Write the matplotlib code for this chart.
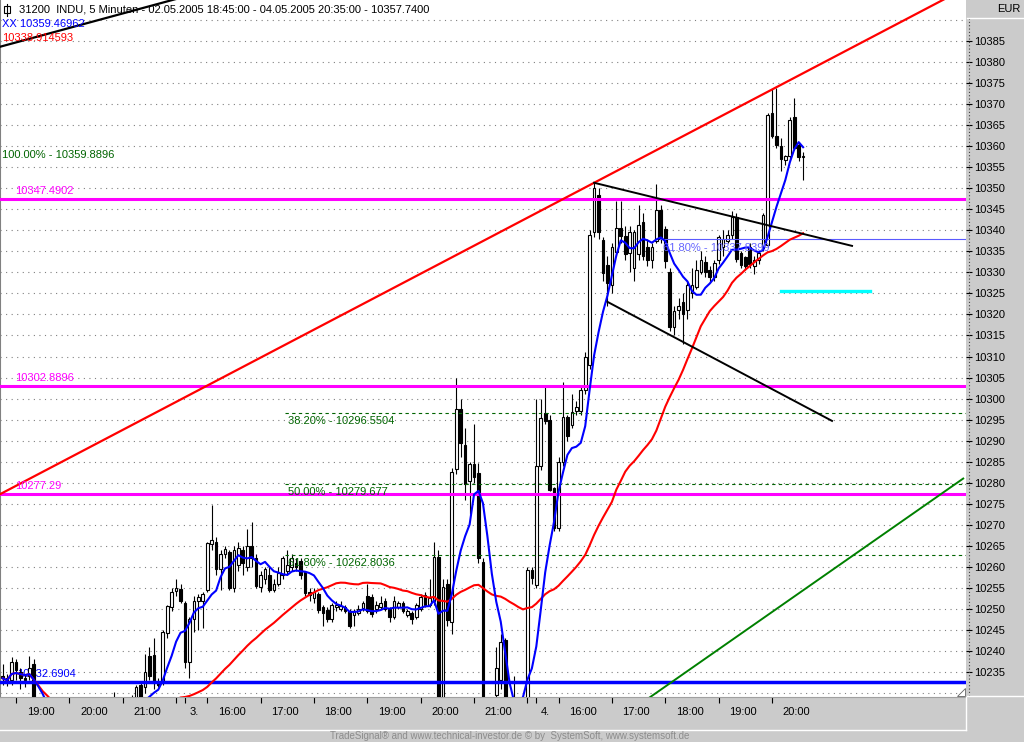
"""INDU 5-Minuten Chart, 02.05.2005 - 04.05.2005, im TradeSignal-Stil"""

import numpy as np
import pandas as pd
import matplotlib
matplotlib.use('Agg')
import matplotlib.pyplot as plt
from matplotlib.patches import Rectangle, Polygon
from matplotlib.lines import Line2D

W, H = 1024, 742
PLOT_R = 966
PLOT_B = 697
GRAY = '#cbcbcb'

plt.rcParams['font.family'] = ['Liberation Sans', 'DejaVu Sans']

SESSIONS = [('2005-05-02 18:45', '2005-05-02 22:00'),
            ('2005-05-03 15:30', '2005-05-03 22:00'),
            ('2005-05-04 15:30', '2005-05-04 20:35')]

# OHLC je 5-Minuten-Kerze
opens = [
    10234, 10233.5, 10233.1, 10237.5, 10235, 10233.5, 10234, 10237, 10224, 10221,
    10218, 10219, 10216, 10217, 10219, 10218, 10220, 10222, 10221, 10219,
    10220, 10222, 10223, 10221, 10224, 10225, 10227, 10225, 10226, 10227,
    10226.5, 10231.9, 10231.5, 10238.7, 10239, 10232.7, 10232.5, 10244.4, 10250.5, 10254.2,
    10254.8, 10251.5, 10237.5, 10247.5, 10252, 10252, 10254.6, 10265.5, 10266, 10259.4,
    10263, 10263.5, 10255, 10260.5, 10264, 10260, 10265, 10262, 10255.3, 10257,
    10258, 10254.6, 10256, 10258, 10259, 10260, 10261, 10261.5, 10258.8, 10254,
    10252.5, 10253.5, 10250.5, 10249.8, 10247.6, 10250.5, 10250, 10250.5, 10249.6, 10248.5,
    10249, 10250.2, 10253, 10252.8, 10250, 10250.5, 10252, 10250, 10248, 10250.5,
    10251.5, 10248.5, 10249, 10248, 10250, 10253.3, 10251, 10252, 10262.4, 10224,
    10256, 10247, 10283.3, 10297.5, 10289, 10280.4, 10284.5, 10282.3, 10261.2, 10224,
    10220, 10229.5, 10233, 10242.6, 10226, 10223, 10227, 10224, 10228, 10259.3,
    10255.7, 10283.9, 10296.5, 10295, 10278.7, 10269.2, 10285, 10295.6, 10293.8, 10297,
    10297, 10302, 10308, 10339.7, 10348.4, 10337.7, 10331.8, 10327, 10334.9, 10340.5,
    10338.6, 10334.5, 10331, 10334.3, 10342, 10336, 10333, 10337.4, 10344.9, 10340.2,
    10330.2, 10317.1, 10321, 10323, 10321, 10325, 10326.6, 10330.2, 10332.5, 10330.6,
    10329, 10332.9, 10336, 10337.5, 10338.9, 10343.2, 10334.6, 10333.7, 10336, 10331.5,
    10333, 10335.7, 10336.5, 10367.8, 10362.3, 10360, 10356.7, 10357.7, 10367, 10360.3,
    10357.4,
]
highs = [
    10237, 10234.5, 10238.5, 10238, 10236, 10234.5, 10238.7, 10238, 10225, 10222,
    10221, 10220, 10218.5, 10220.5, 10220, 10221.5, 10223.5, 10223, 10222, 10221.5,
    10223.5, 10224.5, 10224, 10225.5, 10226.5, 10230.2, 10228, 10227.5, 10228, 10229.5,
    10232, 10232.5, 10239.4, 10241, 10243, 10233.5, 10245, 10251, 10255, 10257,
    10256, 10252, 10248, 10253, 10253.5, 10254, 10266, 10274.7, 10267, 10264,
    10265, 10264, 10265, 10266, 10265, 10269, 10270.7, 10263, 10259, 10260,
    10260, 10257, 10260, 10262.5, 10264, 10263, 10262, 10262, 10259, 10255,
    10255, 10254, 10251, 10250.5, 10251.5, 10252, 10252, 10251, 10250, 10250,
    10251, 10252, 10256, 10253.5, 10252, 10253, 10252.5, 10250.5, 10253, 10252,
    10252, 10250, 10249.5, 10251.5, 10253.5, 10254, 10257, 10266, 10264, 10257,
    10257, 10283.5, 10304.8, 10300, 10293, 10285, 10294, 10284.8, 10262, 10226,
    10227, 10241, 10244, 10243, 10228, 10234, 10228, 10229, 10260, 10260,
    10300, 10300, 10303, 10296, 10279, 10286, 10304, 10296, 10301, 10299.5,
    10303, 10311, 10340, 10351.3, 10350, 10338.5, 10334, 10337, 10347, 10347,
    10341, 10341, 10340, 10346, 10344, 10338, 10337, 10351, 10346, 10341,
    10331, 10322, 10324, 10325, 10328, 10331, 10333, 10335, 10334, 10331.5,
    10333, 10339, 10340, 10340, 10344.5, 10344, 10335, 10334, 10337, 10334,
    10335, 10344, 10368, 10373.5, 10373.8, 10362, 10358, 10367, 10371.5, 10361,
    10358.5,
]
lows = [
    10232, 10231.8, 10232, 10233, 10231, 10231.5, 10233, 10220, 10219, 10216,
    10217, 10214.5, 10215, 10216, 10216.5, 10217, 10219, 10220, 10217.5, 10218,
    10219, 10221, 10219.5, 10220, 10223, 10223.5, 10224, 10224, 10225, 10225.5,
    10225, 10226, 10230, 10233, 10231, 10231.5, 10232, 10243, 10249.5, 10253,
    10251.5, 10236, 10233.6, 10244.6, 10245, 10245.5, 10254, 10264, 10258, 10254.5,
    10262, 10254.5, 10254, 10259, 10258, 10259, 10260, 10255, 10254, 10256,
    10254, 10254, 10255.5, 10257, 10258, 10259, 10259, 10257, 10253, 10252,
    10251.5, 10249, 10246, 10247, 10247, 10249.5, 10249.5, 10249, 10245.5, 10246,
    10248.5, 10249.5, 10249, 10248, 10249, 10250, 10249.5, 10247, 10247.5, 10250,
    10249, 10248, 10246.5, 10247.5, 10249.5, 10250.5, 10250.5, 10251, 10220, 10222,
    10246, 10244, 10282, 10286, 10276, 10272.5, 10280, 10261, 10220, 10217,
    10218, 10225, 10231, 10224, 10221, 10222, 10222, 10222, 10226, 10256,
    10255, 10283, 10294, 10278, 10268.5, 10268.5, 10284, 10290, 10293, 10296,
    10296, 10301, 10307, 10338.5, 10338, 10328, 10322, 10325, 10334, 10337,
    10333, 10330, 10328, 10333, 10333, 10331.5, 10331, 10337, 10337, 10331,
    10316, 10315, 10319, 10313, 10319, 10324, 10326, 10329.5, 10329, 10327.5,
    10328, 10332, 10334, 10337, 10338, 10332.5, 10331, 10330.5, 10331, 10329.5,
    10332, 10335, 10336, 10362, 10359.5, 10354, 10355.5, 10357, 10359, 10356.5,
    10352,
]
closes = [
    10233.5, 10232.6, 10237.5, 10235.5, 10233.5, 10233, 10236, 10224, 10221, 10218,
    10219, 10216, 10217, 10219, 10218, 10220, 10222, 10221, 10219, 10220,
    10222, 10223, 10221, 10224, 10225, 10227, 10225, 10226, 10227, 10226.5,
    10231.5, 10228, 10235, 10234, 10232.5, 10232, 10244.6, 10250.7, 10254, 10254.9,
    10252, 10237.5, 10247.5, 10252, 10252.8, 10253.5, 10265.7, 10266.5, 10259.4, 10263,
    10264.2, 10255, 10264, 10264.5, 10261, 10265, 10262, 10255.5, 10258, 10259.5,
    10254.6, 10256, 10258.5, 10262, 10260.5, 10262, 10260, 10258, 10253.9, 10253.3,
    10254, 10249.8, 10249, 10247.5, 10251, 10251, 10250.8, 10249.5, 10246, 10249.5,
    10250, 10251.5, 10249.5, 10248.9, 10251, 10251.5, 10250, 10248, 10252, 10251.5,
    10249.5, 10249.5, 10247.5, 10251, 10252.9, 10251, 10252.5, 10262.4, 10224, 10255.3,
    10247.4, 10282.6, 10297.5, 10289.4, 10279.8, 10284.5, 10281.3, 10262, 10224, 10220,
    10226, 10236, 10242.2, 10226, 10223, 10227, 10224, 10228, 10259.3, 10257.4,
    10283.9, 10295.3, 10294.7, 10278.3, 10269.2, 10285, 10295.6, 10291, 10296.8, 10298,
    10302, 10310, 10338.8, 10350, 10339.7, 10329.8, 10327.5, 10336, 10340.5, 10338.6,
    10334.3, 10339.7, 10339.5, 10341.3, 10334, 10333, 10336, 10344.9, 10338, 10332.8,
    10317.1, 10320.9, 10322, 10320, 10327, 10327, 10330.6, 10333, 10330.2, 10329,
    10332.2, 10338.5, 10338, 10338.9, 10343.2, 10333.3, 10331.8, 10331.4, 10332, 10333,
    10334.5, 10343.6, 10367.4, 10362.3, 10360.2, 10357, 10357.7, 10366.2, 10359.5, 10357.4,
    10357.74,
]

FAST_N = 8
SLOW_N = 40
fast_label = 'XX 10359.46962'
slow_label = '10338.914593'

# Horizontale Marken und Fibonacci-Level
magenta_levels = [10347.4902, 10302.8896, 10277.29]
magenta_labels = ['10347.4902', '10302.8896', '10277.29']
blue_level = 10232.6904
fib_levels = [10296.5504, 10279.677, 10262.8036]
fib_labels = ['38.20% - 10296.5504', '50.00% - 10279.677', '61.80% - 10262.8036']
fib_top_label = '100.00% - 10359.8896'
fib_top_level = 10359.8896
fib_start = 63.5
fib2_level = 10337.8399
fib2_label = '61.80% - 10337.8399'
fib2_start = 147.8

# Trendlinien: (Kerzenindex, Kurs)
red_trend = [(0, 10277.6), (133, 10351.3)]
black_top = [(0, 10383.8), (38, 10394.7)]
tri_upper = [(133, 10351.3), (191, 10336.3)]
tri_lower = [(136, 10323.0), (186.5, 10294.7)]
green_trend = [(145, 10228.6), (216, 10281.0)]
cyan_seg = [(175, 10325.6), (195, 10325.6)]

Y_TOP = 10385 + 41 / 4.207
Y_BOT = 10385 - 656 / 4.207
X_LEFT = -2.66 / 4.447
X_RIGHT = (PLOT_R - 2.66) / 4.447


def fx(px):
    return px / W


def fy(py):
    return 1 - py / H


def extend(pts, x0, x1):
    (a, pa), (b, pb) = pts
    k = (pb - pa) / (b - a)
    return [x0, x1], [pa + k * (x0 - a), pa + k * (x1 - a)]


def build_times():
    parts = [pd.date_range(a, b, freq='5min') for a, b in SESSIONS]
    t = parts[0]
    for p in parts[1:]:
        t = t.append(p)
    return t


def main():
    times = build_times()
    o = np.array(opens)
    h = np.array(highs)
    l = np.array(lows)
    c = np.array(closes)
    x = np.arange(len(c))

    fig = plt.figure(figsize=(W / 100, H / 100), dpi=100, facecolor=GRAY)
    ax = fig.add_axes([0, (H - PLOT_B) / H, PLOT_R / W, PLOT_B / H])
    ax.set_facecolor('white')
    ax.set_xlim(X_LEFT, X_RIGHT)
    ax.set_ylim(Y_BOT, Y_TOP)

    # Gitter
    ax.hlines(np.arange(10230, 10391, 5), X_LEFT, X_RIGHT, colors='#808080',
              linestyles=(0, (1, 4)), lw=0.8, zorder=1)

    # Kerzen
    up = c >= o
    ax.vlines(x, l, h, color='black', lw=0.8, zorder=2)
    ax.bar(x[up], (c - o)[up], bottom=o[up], width=0.6, color='white',
           edgecolor='black', lw=0.8, zorder=3)
    ax.bar(x[~up], (o - c)[~up], bottom=c[~up], width=0.6, color='black',
           edgecolor='black', lw=0.8, zorder=3)

    # Fibonacci
    for lev, lab in zip(fib_levels, fib_labels):
        ax.plot([fib_start, X_RIGHT], [lev, lev], color='#006400', lw=0.8,
                ls=(0, (3, 3)), zorder=4)
        ax.text(fib_start + 0.7, lev - 0.8, lab, color='#006400', fontsize=8,
                va='top', ha='left', zorder=6)
    ax.text(2 / PLOT_R, fib_top_level - 0.8, fib_top_label, color='#006400',
            fontsize=8, va='top', ha='left', transform=ax.get_yaxis_transform())
    ax.plot([fib2_start, X_RIGHT], [fib2_level, fib2_level], color='#5a5aff', lw=0.8, zorder=4)
    ax.text(fib2_start + 0.6, fib2_level - 0.8, fib2_label, color='#6464ff', fontsize=8,
            va='top', ha='left', zorder=6)

    # Horizontale Linien
    for lev, lab in zip(magenta_levels, magenta_labels):
        ax.axhline(lev, color='#ff00ff', lw=2.2, zorder=5)
        ax.text(15 / PLOT_R, lev + 0.7, lab, color='#ff00ff', fontsize=8,
                va='bottom', ha='left', transform=ax.get_yaxis_transform(), zorder=6)
    ax.axhline(blue_level, color='#0000ff', lw=2.5, zorder=5)
    ax.text(17 / PLOT_R, blue_level + 0.7, f'{blue_level:.4f}', color='#0000ff',
            fontsize=8, va='bottom', ha='left', transform=ax.get_yaxis_transform(), zorder=1.5)

    # Gleitende Durchschnitte
    s = pd.Series(c)
    fast = s.rolling(FAST_N, min_periods=1).mean()
    slow = s.rolling(SLOW_N, min_periods=1).mean()
    ax.plot(x, slow, color='#ff0000', lw=1.5, zorder=5)
    ax.plot(x, fast, color='#0000ff', lw=1.5, zorder=5)

    # Trendlinien
    xs, ys = extend(red_trend, X_LEFT, X_RIGHT)
    ax.plot(xs, ys, color='#ff0000', lw=1.6, zorder=5)
    xs, ys = extend(black_top, X_LEFT, 45)
    ax.plot(xs, ys, color='black', lw=1.6, zorder=5)
    for seg in (tri_upper, tri_lower):
        ax.plot([p[0] for p in seg], [p[1] for p in seg], color='black', lw=1.4, zorder=5)
    ax.plot([p[0] for p in green_trend], [p[1] for p in green_trend], color='#008000',
            lw=1.4, zorder=5)
    ax.plot([p[0] for p in cyan_seg], [p[1] for p in cyan_seg], color='#00ffff',
            lw=2.4, zorder=5)

    # Kopfzeile
    ax.text(2 / PLOT_R, 1 - 24 / PLOT_B, fast_label, color='#0000ff',
            fontsize=8, va='center', transform=ax.transAxes, zorder=7)
    ax.text(2 / PLOT_R, 1 - 38 / PLOT_B, slow_label, color='#ff0000',
            fontsize=8, va='center', transform=ax.transAxes, zorder=7)
    title = (f'31200  INDU, 5 Minuten - {times[0]:%d.%m.%Y %H:%M:%S} - '
             f'{times[-1]:%d.%m.%Y %H:%M:%S} - {c[-1]:.4f}')
    fig.text(fx(19), fy(10), title, fontsize=8, va='center', ha='left')
    fig.patches.append(Rectangle((fx(4), fy(13)), 6 / W, 7 / H, fill=False,
                                 edgecolor='black', lw=0.8, transform=fig.transFigure))
    fig.lines.append(Line2D([fx(7), fx(7)], [fy(4), fy(16)], color='black', lw=0.8,
                            transform=fig.transFigure))

    # Y-Achse rechts
    for side in ('top', 'right'):
        ax.spines[side].set_visible(False)
    ax.spines['left'].set_color('#808080')
    ax.spines['bottom'].set_color('#a0a0a0')
    ax.yaxis.tick_right()
    ax.set_yticks(np.arange(10235, 10386, 5))
    ax.tick_params(axis='y', direction='out', length=4, width=0.8, pad=2, labelsize=8)
    fig.lines.append(Line2D([fx(969), fx(969)], [fy(18), fy(695)], color='#404040',
                            lw=0.8, ls=(0, (1, 2)), transform=fig.transFigure))

    # X-Achse
    tick_pos = [i for i, t in enumerate(times)
                if t.minute == 0 or (t.hour == 15 and t.minute == 35)]
    lab_pos, lab_txt = [], []
    for k, i in enumerate(tick_pos):
        t = times[i]
        if t.hour == 22:
            continue
        nxt = tick_pos[k + 1] if k + 1 < len(tick_pos) else i + 12
        lab_pos.append((i + nxt) / 2 - 0.5)
        lab_txt.append(f'{t.day}.' if t.minute == 35 else f'{t:%H:00}')
    ax.set_xticks(tick_pos)
    ax.set_xticklabels([])
    ax.set_xticks(lab_pos, minor=True)
    ax.set_xticklabels(lab_txt, minor=True)
    ax.tick_params(axis='x', which='major', direction='out', length=4, width=0.8)
    ax.tick_params(axis='x', which='minor', length=0, pad=7, labelsize=8)

    # Rahmen und Beschriftungen
    fig.text(fx(1020), fy(9), 'EUR', fontsize=8, ha='right', va='center')
    fig.lines.append(Line2D([fx(967), 1], [fy(17.5), fy(17.5)], color='white', lw=1,
                            transform=fig.transFigure))
    fig.lines.append(Line2D([fx(967), 1], [fy(695.5), fy(695.5)], color='white', lw=1,
                            transform=fig.transFigure))
    fig.lines.append(Line2D([0, fx(965.5)], [fy(729.5), fy(729.5)], color='white', lw=1,
                            transform=fig.transFigure))
    fig.lines.append(Line2D([fx(965.5), fx(965.5)], [fy(697), fy(729.5)], color='white',
                            lw=1, transform=fig.transFigure))
    fig.patches.append(Polygon([(fx(957), fy(696)), (fx(965), fy(696)), (fx(965), fy(688))],
                               closed=True, facecolor='white', edgecolor='#606060', lw=0.6,
                               transform=fig.transFigure))
    fig.text(fx(510), fy(736), 'TradeSignal® and www.technical-investor.de © by  SystemSoft, '
             'www.systemsoft.de', fontsize=7, color='#8c8c8c', ha='center', va='center')

    fig.savefig('out.png', dpi=100, facecolor=GRAY)
    plt.close(fig)


if __name__ == "__main__":
    main()
